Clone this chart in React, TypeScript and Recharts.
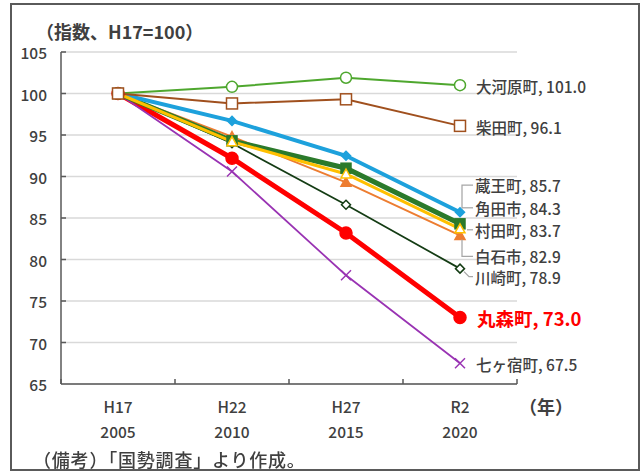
import { LineChart, Line, XAxis, YAxis, CartesianGrid, LabelList } from "recharts";

// 平成17年=100 とした人口指数
const eras = ["H17", "H22", "H27", "R2"];
const years = ["2005", "2010", "2015", "2020"];

const ookawara = [100, 100.8, 101.9, 101.0];
const shibata = [100, 98.8, 99.3, 96.1];
const zao = [100, 96.7, 92.5, 85.7];
const kakuda = [100, 94.3, 91.0, 84.3];
const murata = [100, 94.2, 90.3, 83.7];
const shiroishi = [100, 94.8, 89.3, 82.9];
const kawasaki = [100, 94.0, 86.6, 78.9];
const marumori = [100, 92.2, 83.2, 73.0];
const shichikashuku = [100, 90.6, 78.1, 67.5];

const yTicks = [65, 70, 75, 80, 85, 90, 95, 100, 105];

const data = eras.map((era, i) => ({
  era,
  ookawara: ookawara[i],
  shibata: shibata[i],
  zao: zao[i],
  kakuda: kakuda[i],
  murata: murata[i],
  shiroishi: shiroishi[i],
  kawasaki: kawasaki[i],
  marumori: marumori[i],
  shichikashuku: shichikashuku[i],
}));

const FONT = "'Noto Sans CJK JP', 'Noto Sans', sans-serif";
const TEXT = "#404040";
const LEADER = "#a6a6a6";
const HALF_BAND = 57;

type Marker = "circle" | "square" | "diamond" | "triangle" | "x";

interface SeriesStyle {
  key: string;
  name: string;
  color: string;
  width: number;
  marker: Marker;
  size: number;
  filled: boolean;
  dx: number;
  dy: number;
  leader?: [number, number][];
  emphasis?: boolean;
}

// 描画順（後ろが上）
const series: SeriesStyle[] = [
  { key: "marumori", name: "丸森町", color: "#ff0000", width: 5, marker: "circle", size: 12, filled: true, dx: 17, dy: 0, emphasis: true },
  { key: "shichikashuku", name: "七ヶ宿町", color: "#9933b3", width: 1.75, marker: "x", size: 10, filled: false, dx: 16, dy: 1 },
  { key: "kawasaki", name: "川崎町", color: "#143c14", width: 1.75, marker: "diamond", size: 9, filled: false, dx: 15, dy: 8, leader: [[4, 3], [9, 8], [13, 8]] },
  { key: "shiroishi", name: "白石市", color: "#ed7d31", width: 2, marker: "triangle", size: 10, filled: true, dx: 15, dy: 21, leader: [[13, 21], [2, 21], [2, 4]] },
  { key: "kakuda", name: "角田市", color: "#2b7a2b", width: 5, marker: "square", size: 10, filled: true, dx: 15, dy: -16, leader: [[13, -16], [2, -16]] },
  { key: "zao", name: "蔵王町", color: "#1da1dc", width: 4, marker: "diamond", size: 9, filled: true, dx: 15, dy: -27, leader: [[13, -27], [2, -27], [2, -4]] },
  { key: "murata", name: "村田町", color: "#ffc000", width: 3, marker: "triangle", size: 10, filled: false, dx: 15, dy: 1, leader: [[7, 1], [13, 1]] },
  { key: "ookawara", name: "大河原町", color: "#4ea72e", width: 2, marker: "circle", size: 11, filled: false, dx: 16, dy: 1 },
  { key: "shibata", name: "柴田町", color: "#a0501e", width: 2, marker: "square", size: 11, filled: false, dx: 16, dy: 1 },
];

function drawMarker(s: SeriesStyle, cx: number, cy: number, key: string | number) {
  const h = s.size / 2;
  const fill = s.filled ? s.color : "#ffffff";
  const sw = 1.5;
  switch (s.marker) {
    case "circle":
      return <circle key={key} cx={cx} cy={cy} r={h} fill={fill} stroke={s.color} strokeWidth={sw} />;
    case "square":
      return <rect key={key} x={cx - h} y={cy - h} width={s.size} height={s.size} fill={fill} stroke={s.color} strokeWidth={sw} />;
    case "diamond":
      return (
        <polygon
          key={key}
          points={`${cx},${cy - h} ${cx + h},${cy} ${cx},${cy + h} ${cx - h},${cy}`}
          fill={fill}
          stroke={s.color}
          strokeWidth={sw}
        />
      );
    case "triangle":
      return (
        <polygon
          key={key}
          points={`${cx},${cy - h} ${cx + h},${cy + h * 0.8} ${cx - h},${cy + h * 0.8}`}
          fill={fill}
          stroke={s.color}
          strokeWidth={sw}
        />
      );
    default:
      return (
        <g key={key} stroke={s.color} strokeWidth={1.5}>
          <line x1={cx - h} y1={cy - h} x2={cx + h} y2={cy + h} />
          <line x1={cx - h} y1={cy + h} x2={cx + h} y2={cy - h} />
        </g>
      );
  }
}

function XTick(props: any) {
  const { x, y, payload, index } = props;
  const i = payload && payload.index != null ? payload.index : index;
  return (
    <g>
      <line x1={x - HALF_BAND} y1={y} x2={x - HALF_BAND} y2={y - 5} stroke="#595959" strokeWidth={1.5} />
      {i === eras.length - 1 && (
        <line x1={x + HALF_BAND} y1={y} x2={x + HALF_BAND} y2={y - 5} stroke="#595959" strokeWidth={1.5} />
      )}
      <text x={x} y={y + 22} textAnchor="middle" dominantBaseline="central" fill={TEXT} fontSize={15.5} fontWeight={500} fontFamily={FONT}>
        {payload.value}
      </text>
      <text x={x} y={y + 47} textAnchor="middle" dominantBaseline="central" fill={TEXT} fontSize={15.5} fontWeight={500} fontFamily={FONT}>
        {years[i]}
      </text>
    </g>
  );
}

function YTick(props: any) {
  const { x, y, payload } = props;
  return (
    <g>
      {payload.value !== 65 && <line x1={x} y1={y} x2={x + 5} y2={y} stroke="#595959" strokeWidth={1.5} />}
      <text x={x - 14} y={y} textAnchor="end" dominantBaseline="central" fill={TEXT} fontSize={15.5} fontWeight={500} fontFamily={FONT}>
        {payload.value}
      </text>
    </g>
  );
}

function endLabel(s: SeriesStyle) {
  return (props: any) => {
    const { x, y, index, value } = props;
    if (index !== eras.length - 1) return null;
    const pts = s.leader ? s.leader.map(([a, b]) => `${x + a},${y + b}`).join(" ") : "";
    return (
      <g>
        {s.leader && <polyline points={pts} fill="none" stroke={LEADER} strokeWidth={1.25} />}
        <text
          x={x + s.dx}
          y={y + s.dy}
          dominantBaseline="central"
          fill={s.emphasis ? "#ff0000" : TEXT}
          fontSize={s.emphasis ? 18.5 : 15.5}
          fontWeight={s.emphasis ? 700 : 500}
          fontFamily={FONT}
        >
          {`${s.name}, ${Number(value).toFixed(1)}`}
        </text>
      </g>
    );
  };
}

export default function App() {
  return (
    <div style={{ position: "fixed", left: 0, top: 0, width: 642, height: 472, background: "#ffffff", fontFamily: FONT }}>
      <div
        style={{
          position: "absolute",
          left: 10,
          top: 3,
          width: 626,
          height: 464,
          border: "2px solid #5a5a5a",
        }}
      />
      <div style={{ position: "absolute", left: 0, top: 0 }}>
        <LineChart width={642} height={472} data={data} margin={{ top: 52, right: 125, bottom: 28, left: 21 }}>
          <CartesianGrid vertical={false} stroke="#d9d9d9" strokeWidth={1.5} />
          <XAxis
            dataKey="era"
            axisLine={{ stroke: "#595959", strokeWidth: 1.5 }}
            tickLine={false}
            tickSize={0}
            tickMargin={0}
            height={60}
            interval={0}
            padding={{ left: HALF_BAND, right: HALF_BAND }}
            tick={<XTick />}
          />
          <YAxis
            domain={[65, 105]}
            ticks={yTicks}
            width={40}
            axisLine={{ stroke: "#595959", strokeWidth: 1.5 }}
            tickLine={false}
            tickSize={0}
            tickMargin={0}
            interval={0}
            tick={<YTick />}
          />
          {series.map((s) => (
            <Line
              key={s.key}
              dataKey={s.key}
              name={s.name}
              stroke={s.color}
              strokeWidth={s.width}
              type="linear"
              isAnimationActive={false}
              dot={(p: any) => drawMarker(s, p.cx, p.cy, `${s.key}-${p.index}`)}
              activeDot={false}
            >
              <LabelList dataKey={s.key} content={endLabel(s)} />
            </Line>
          ))}
        </LineChart>
      </div>
      <div style={{ position: "absolute", left: 36, top: 17, fontSize: 18, fontWeight: 700, color: TEXT, lineHeight: "28px", whiteSpace: "nowrap" }}>
        （指数、H17=100）
      </div>
      <div style={{ position: "absolute", left: 519, top: 392, fontSize: 18, fontWeight: 700, color: TEXT, lineHeight: "28px", whiteSpace: "nowrap" }}>
        （年）
      </div>
      <div
        style={{
          position: "absolute",
          left: 33,
          top: 445,
          fontSize: 18,
          fontWeight: 500,
          letterSpacing: 0.8,
          color: TEXT,
          lineHeight: "28px",
          whiteSpace: "nowrap",
        }}
      >
        （備考）「国勢調査」より作成。
      </div>
    </div>
  );
}
